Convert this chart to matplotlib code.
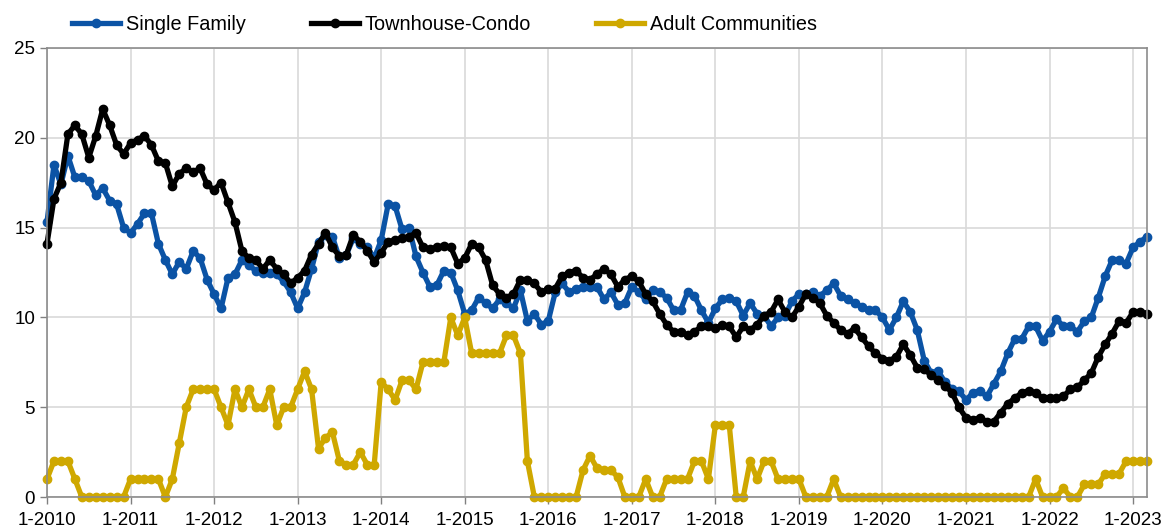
import matplotlib
matplotlib.use('Agg')
import matplotlib.pyplot as plt
import numpy as np

# monthly values, 1-2010 through 3-2023
single_family = [15.3, 18.5, 17.4, 19.0, 17.8, 17.8, 17.6, 16.8, 17.2, 16.5, 16.3, 15.0,
                 14.7, 15.2, 15.8, 15.8, 14.1, 13.2, 12.4, 13.1, 12.7, 13.7, 13.3, 12.1,
                 11.3, 10.5, 12.2, 12.4, 13.2, 12.9, 12.6, 12.5, 12.5, 12.4, 12.0, 11.4,
                 10.5, 11.4, 12.7, 14.2, 14.6, 14.5, 13.3, 13.5, 14.4, 14.1, 13.9, 13.3,
                 14.3, 16.3, 16.2, 14.9, 15.0, 13.4, 12.5, 11.7, 11.8, 12.6, 12.5, 11.5,
                 10.2, 10.4, 11.1, 10.8, 10.5, 11.0, 10.8, 10.5, 11.5, 9.8, 10.2, 9.6,
                 9.8, 11.4, 11.9, 11.4, 11.6, 11.7, 11.7, 11.7, 11.0, 11.4, 10.7, 10.8,
                 11.7, 11.4, 11.0, 11.5, 11.4, 11.1, 10.4, 10.4, 11.4, 11.2, 10.4, 9.7,
                 10.5, 11.0, 11.1, 10.9, 10.1, 10.8, 10.2, 10.1, 9.5, 10.0, 10.1, 10.9,
                 11.3, 11.3, 11.4, 11.2, 11.5, 11.9, 11.2, 11.0, 10.8, 10.6, 10.4, 10.4,
                 10.0, 9.3, 10.0, 10.9, 10.3, 9.3, 7.6, 6.9, 7.0, 6.4, 6.0, 5.9,
                 5.4, 5.8, 5.9, 5.6, 6.3, 7.0, 8.0, 8.8, 8.8, 9.5, 9.5, 8.7,
                 9.2, 9.9, 9.5, 9.5, 9.2, 9.8, 10.0, 11.1, 12.3, 13.2, 13.2, 13.0,
                 13.9, 14.2, 14.5]

townhouse_condo = [14.1, 16.6, 17.5, 20.2, 20.7, 20.2, 18.9, 20.1, 21.6, 20.7, 19.6, 19.1,
                   19.7, 19.9, 20.1, 19.6, 18.7, 18.6, 17.3, 18.0, 18.3, 18.1, 18.3, 17.4,
                   17.1, 17.5, 16.4, 15.3, 13.7, 13.3, 13.2, 12.7, 13.2, 12.7, 12.4, 11.9,
                   12.2, 12.6, 13.5, 14.1, 14.7, 13.9, 13.4, 13.5, 14.6, 14.2, 13.7, 13.1,
                   13.6, 14.2, 14.3, 14.4, 14.5, 14.7, 13.9, 13.8, 13.9, 14.0, 13.9, 13.0,
                   13.3, 14.1, 13.9, 13.2, 11.8, 11.3, 11.1, 11.3, 12.1, 12.1, 11.9, 11.4,
                   11.6, 11.6, 12.3, 12.5, 12.6, 12.2, 12.1, 12.4, 12.7, 12.4, 11.7, 12.1,
                   12.3, 12.0, 11.3, 10.9, 10.2, 9.6, 9.2, 9.2, 9.0, 9.2, 9.5, 9.5,
                   9.4, 9.6, 9.5, 8.9, 9.5, 9.3, 9.6, 10.1, 10.3, 11.0, 10.3, 10.0,
                   10.6, 11.3, 11.1, 10.8, 10.1, 9.7, 9.3, 9.1, 9.4, 8.9, 8.4, 8.0,
                   7.7, 7.6, 7.8, 8.5, 7.9, 7.2, 7.1, 6.8, 6.5, 6.2, 5.8, 5.0,
                   4.4, 4.3, 4.4, 4.2, 4.2, 4.7, 5.2, 5.5, 5.8, 5.9, 5.8, 5.5,
                   5.5, 5.5, 5.6, 6.0, 6.1, 6.5, 6.9, 7.8, 8.5, 9.1, 9.8, 9.7,
                   10.3, 10.3, 10.2]

adult_communities = [1, 2, 2, 2, 1, 0, 0, 0, 0, 0, 0, 0,
                     1, 1, 1, 1, 1, 0, 1, 3, 5, 6, 6, 6,
                     6, 5, 4, 6, 5, 6, 5, 5, 6, 4, 5, 5,
                     6, 7, 6, 2.7, 3.3, 3.6, 2, 1.8, 1.8, 2.5, 1.8, 1.8,
                     6.4, 6.0, 5.4, 6.5, 6.5, 6.0, 7.5, 7.5, 7.5, 7.5, 10, 9,
                     10, 8, 8, 8, 8, 8, 9, 9, 8, 2, 0, 0,
                     0, 0, 0, 0, 0, 1.5, 2.3, 1.6, 1.5, 1.5, 1.1, 0,
                     0, 0, 1, 0, 0, 1, 1, 1, 1, 2, 2, 1,
                     4, 4, 4, 0, 0, 2, 1, 2, 2, 1, 1, 1,
                     1, 0, 0, 0, 0, 1, 0, 0, 0, 0, 0, 0,
                     0, 0, 0, 0, 0, 0, 0, 0, 0, 0, 0, 0,
                     0, 0, 0, 0, 0, 0, 0, 0, 0, 0, 1, 0,
                     0, 0, 0.5, 0, 0, 0.7, 0.7, 0.7, 1.3, 1.3, 1.3, 2,
                     2, 2, 2]

tick_labels = ['1-2010', '1-2011', '1-2012', '1-2013', '1-2014', '1-2015', '1-2016',
               '1-2017', '1-2018', '1-2019', '1-2020', '1-2021', '1-2022', '1-2023']

plt.rcParams['font.family'] = ['Liberation Sans', 'DejaVu Sans']

fig = plt.figure(figsize=(11.63, 5.32), dpi=100)
ax = fig.add_axes([47/1163, 1 - 497/532, 1100/1163, 449/532])

x = np.arange(len(single_family))
series = [(single_family, '#0B53A5', 'Single Family'),
          (townhouse_condo, '#000000', 'Townhouse-Condo'),
          (adult_communities, '#CFA800', 'Adult Communities')]
for vals, col, lab in series:
    ax.plot(x, vals, color=col, lw=3.8, marker='o', ms=6, label=lab, clip_on=False,
            solid_joinstyle='round')

ax.set_xlim(0, len(x) - 1)
ax.set_ylim(0, 25)
ax.set_yticks(range(0, 26, 5))
ax.set_xticks(np.arange(len(tick_labels)) * 12)
ax.set_xticklabels(tick_labels)
ax.tick_params(labelsize=13.5, color='#808080', length=5, width=1)
ax.tick_params(axis='x', pad=6)
ax.grid(True, color='#D9D9D9', lw=1.2)
ax.set_axisbelow(True)
for s in ax.spines.values():
    s.set_color('#8C8C8C')
    s.set_linewidth(1.2)

fig.legend(loc='upper left', bbox_to_anchor=(54/1163, 1.005), ncol=3, frameon=False,
           fontsize=14.3, handlelength=2.4, handletextpad=0.3, columnspacing=3.3)

fig.savefig('out.png', dpi=100)
